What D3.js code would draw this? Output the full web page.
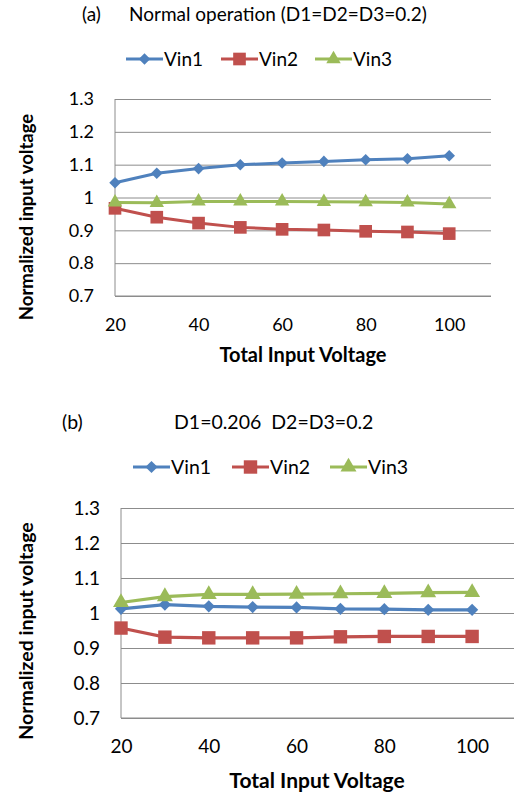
<!DOCTYPE html>
<html>
<head>
<meta charset="utf-8">
<script src="https://cdn.jsdelivr.net/npm/d3@7"></script>
<style>
  body { margin: 0; background: #fff; }
  svg { display: block; font-family: Lato, "Open Sans", sans-serif; }
  text { white-space: pre; }
</style>
</head>
<body>
<div id="chart"></div>
<script>
// data
const xValues = [20, 30, 40, 50, 60, 70, 80, 90, 100];
const xTicks = [20, 40, 60, 80, 100];
const yTicks = [0.7, 0.8, 0.9, 1.0, 1.1, 1.2, 1.3];
const seriesNames = ["Vin1", "Vin2", "Vin3"];

// (a) normal operation
const vin1A = [1.045, 1.074, 1.088, 1.100, 1.105, 1.110, 1.115, 1.118, 1.127];
const vin2A = [0.967, 0.940, 0.922, 0.909, 0.903, 0.901, 0.897, 0.895, 0.890];
const vin3A = [0.985, 0.984, 0.988, 0.988, 0.988, 0.987, 0.986, 0.985, 0.980];

// (b) D1=0.206
const vin1B = [1.012, 1.024, 1.019, 1.017, 1.016, 1.012, 1.011, 1.009, 1.009];
const vin2B = [0.957, 0.931, 0.929, 0.929, 0.929, 0.932, 0.933, 0.933, 0.933];
const vin3B = [1.030, 1.047, 1.053, 1.053, 1.054, 1.055, 1.056, 1.058, 1.059];

const colors = ["#4F81BD", "#C0504D", "#9BBB59"];
const symbols = [d3.symbolDiamond2, d3.symbolSquare, d3.symbolTriangle];

const width = 514, height = 795;

const svg = d3.select("#chart")
  .append("svg")
  .attr("width", width)
  .attr("height", height);

const panels = [
  {
    tag: "(a)", title: "Normal operation (D1=D2=D3=0.2)",
    tagX: 82, titleX: 129, titleY: 21, titleFont: 19,
    legendY: 59, legendX: [126, 221, 315],
    left: 115, right: 491, top: 99, bottom: 296,
    font: 18, yTitleFont: 18.5, xTitleFont: 20, xTitleX: 303, xTitleY: 362,
    sizes: [85, 160, 90], lineW: 3,
    series: [vin1A, vin2A, vin3A], yTitleY: 217
  },
  {
    tag: "(b)", title: "D1=0.206  D2=D3=0.2",
    tagX: 62, titleX: 174, titleY: 429, titleFont: 19.5,
    legendY: 467, legendX: [133, 232, 330],
    left: 121, right: 516, top: 508, bottom: 718,
    font: 19, yTitleFont: 19.5, xTitleFont: 21, xTitleX: 317, xTitleY: 788,
    sizes: [95, 180, 110], lineW: 3.2,
    series: [vin1B, vin2B, vin3B], yTitleY: 631
  }
];

panels.forEach(function(p) {
  const g = svg.append("g");

  const x = d3.scaleLinear().domain([20, 110]).range([p.left, p.right]);
  const y = d3.scaleLinear().domain([0.7, 1.3]).range([p.bottom, p.top]);

  // titles
  g.append("text").attr("x", p.tagX).attr("y", p.titleY)
    .attr("font-size", p.titleFont).attr("fill", "#000").text(p.tag);
  g.append("text").attr("x", p.titleX).attr("y", p.titleY)
    .attr("font-size", p.titleFont).attr("fill", "#000").text(p.title);

  // legend
  seriesNames.forEach(function(name, i) {
    const lx = p.legendX[i];
    g.append("line")
      .attr("x1", lx).attr("x2", lx + 37)
      .attr("y1", p.legendY).attr("y2", p.legendY)
      .attr("stroke", colors[i]).attr("stroke-width", p.lineW);
    g.append("path")
      .attr("d", d3.symbol().type(symbols[i]).size(p.sizes[i])())
      .attr("transform", "translate(" + (lx + 18.5) + "," + p.legendY + ")")
      .attr("fill", colors[i]);
    g.append("text")
      .attr("x", lx + 38).attr("y", p.legendY + 6.5)
      .attr("font-size", p.titleFont).attr("fill", "#000").text(name);
  });

  // gridlines + y labels
  const yAxis = g.append("g")
    .attr("transform", "translate(" + p.left + ",0)")
    .call(d3.axisLeft(y).tickValues(yTicks)
      .tickSize(-(p.right - p.left))
      .tickPadding(21)
      .tickFormat(function(d) { return +d.toFixed(1); }));
  yAxis.select(".domain").remove();
  yAxis.selectAll(".tick line").attr("stroke", "#8c8c8c").attr("stroke-width", 1);
  yAxis.selectAll(".tick text")
    .attr("font-size", p.font).attr("font-family", "Lato").attr("fill", "#000");

  // x labels
  const xAxis = g.append("g")
    .attr("transform", "translate(0," + p.bottom + ")")
    .call(d3.axisBottom(x).tickValues(xTicks).tickSize(0).tickPadding(22));
  xAxis.select(".domain").remove();
  xAxis.selectAll(".tick text")
    .attr("font-size", p.font).attr("font-family", "Lato").attr("fill", "#000");

  // axis lines
  g.append("line").attr("x1", p.left).attr("x2", p.left)
    .attr("y1", p.top).attr("y2", p.bottom)
    .attr("stroke", "#8c8c8c");
  g.append("line").attr("x1", p.left).attr("x2", p.right)
    .attr("y1", p.bottom).attr("y2", p.bottom)
    .attr("stroke", "#8c8c8c");

  // axis titles
  g.append("text")
    .attr("transform", "translate(33," + p.yTitleY + ") rotate(-90)")
    .attr("text-anchor", "middle").attr("font-weight", "bold")
    .attr("font-size", p.yTitleFont).text("Normalized input voltage");
  g.append("text")
    .attr("x", p.xTitleX).attr("y", p.xTitleY)
    .attr("text-anchor", "middle").attr("font-weight", "bold")
    .attr("font-size", p.xTitleFont).text("Total Input Voltage");

  // series
  const line = d3.line()
    .x(function(d, i) { return x(xValues[i]); })
    .y(function(d) { return y(d); });

  p.series.forEach(function(vals, i) {
    g.append("path")
      .datum(vals)
      .attr("d", line)
      .attr("fill", "none")
      .attr("stroke", colors[i])
      .attr("stroke-width", p.lineW);
    g.selectAll(".m" + i)
      .data(vals).enter()
      .append("path")
      .attr("d", d3.symbol().type(symbols[i]).size(p.sizes[i]))
      .attr("transform", function(d, j) { return "translate(" + x(xValues[j]) + "," + y(d) + ")"; })
      .attr("fill", colors[i]);
  });
});
</script>
</body>
</html>
